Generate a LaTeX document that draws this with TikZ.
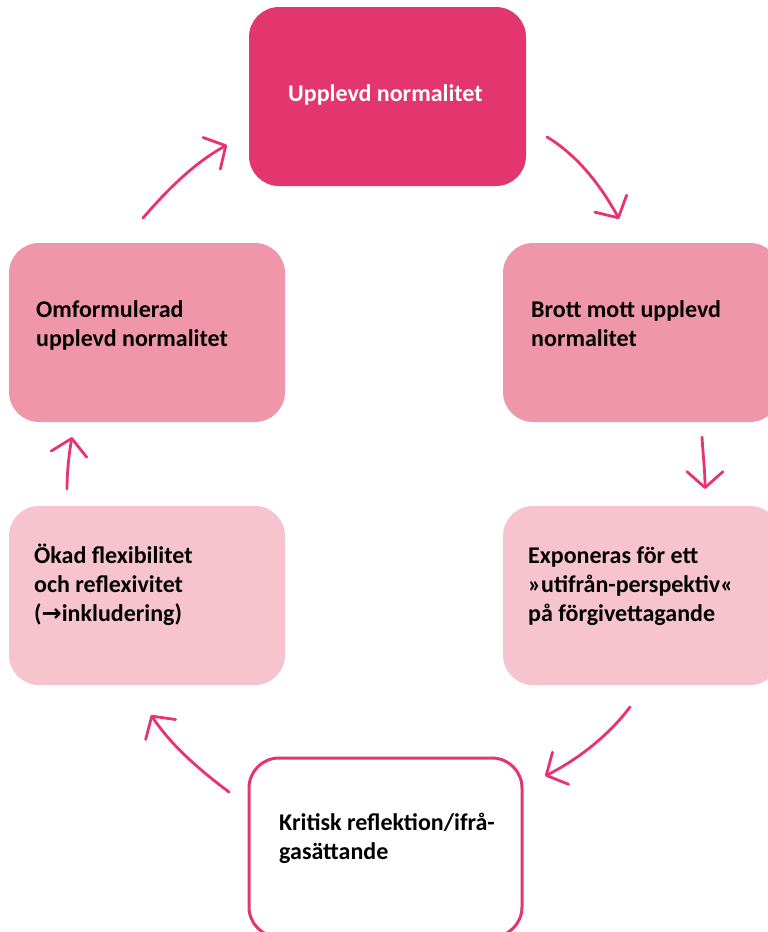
\documentclass[tikz,border=0pt]{standalone}
\usepackage{fontspec}
\setmainfont{Carlito}
\newfontfamily\symfont{DejaVu Sans}
\usetikzlibrary{arrows.meta}
\definecolor{deeppink}{HTML}{E3366F}
\definecolor{midpink}{HTML}{F096AA}
\definecolor{lightpink}{HTML}{F7C3CF}
\definecolor{arrowpink}{HTML}{E8336E}
\begin{document}
\begin{tikzpicture}[x=1pt,y=-1pt,
  box/.style={rounded corners=30pt, inner sep=0pt, outer sep=0pt, anchor=north west},
  lbl/.style={font=\bfseries\fontsize{24}{29.3}\selectfont, anchor=base west, inner sep=0pt, align=left},
  flow/.style={draw=arrowpink, line width=2.8pt, line cap=round,
    -{Straight Barb[length=16pt,width=36pt,line cap=round,line join=round]}}]
\useasboundingbox (0,0) rectangle (768,932);
\clip (0,0) rectangle (768,932);
% boxes
\node[box, fill=deeppink, minimum width=277pt, minimum height=179pt] (top) at (249,7) {};
\node[box, fill=midpink, minimum width=277pt, minimum height=179pt] (ur) at (503,243) {};
\node[box, fill=midpink, minimum width=276pt, minimum height=179pt] (ul) at (9,243) {};
\node[box, fill=lightpink, minimum width=277pt, minimum height=179pt] (lr) at (503,506) {};
\node[box, fill=lightpink, minimum width=276pt, minimum height=179pt] (ll) at (9,506) {};
\node[box, draw=deeppink, line width=3pt, fill=white, minimum width=273pt, minimum height=179pt] (bot) at (249,758) {};
% labels (anchored at the baseline of the last line)
\node[lbl, text=white] (ttop) at (288,101) {Upplevd normalitet};
\node[lbl] (tur) at (531,346.3) {Brott mott upplevd\\normalitet};
\node[lbl] (tul) at (36,346.3) {Omformulerad\\upplevd normalitet};
\node[lbl] (tlr) at (528,621.6) {Exponeras för ett\\»utifrån-perspektiv«\\på förgivettagande};
\node[lbl] (tll) at (34,621.6) {Ökad flexibilitet\\och reflexivitet\\({\symfont\bfseries →}inkludering)};
\node[lbl] (tbot) at (279,859.3) {Kritisk reflektion/ifrå-\\gasättande};
% arrow end points
\coordinate (a1s) at (143,218); \coordinate (a1e) at (227,145);
\coordinate (a2s) at (547,137); \coordinate (a2e) at (619,219);
\coordinate (a3s) at (702,437); \coordinate (a3e) at (705,489);
\coordinate (a4s) at (630,707); \coordinate (a4e) at (545,776);
\coordinate (a5s) at (229,792); \coordinate (a5e) at (151,715);
\coordinate (a6s) at (67,489);  \coordinate (a6e) at (72,437);
\draw[flow] (a1s) .. controls (167,190) and (194.5,162.7) .. (a1e);
\draw[flow] (a2s) .. controls (578,155.5) and (602,187.3) .. (a2e);
\draw[flow] (a3s) .. controls (703,455) and (705,470) .. (a3e);
\draw[flow] (a4s) .. controls (608.4,735.8) and (577.2,759.9) .. (a4e);
\draw[flow] (a5s) .. controls (199.4,769.8) and (171.5,745.8) .. (a5e);
\draw[flow] (a6s) .. controls (67,472) and (69,454) .. (a6e);
\end{tikzpicture}
\end{document}
